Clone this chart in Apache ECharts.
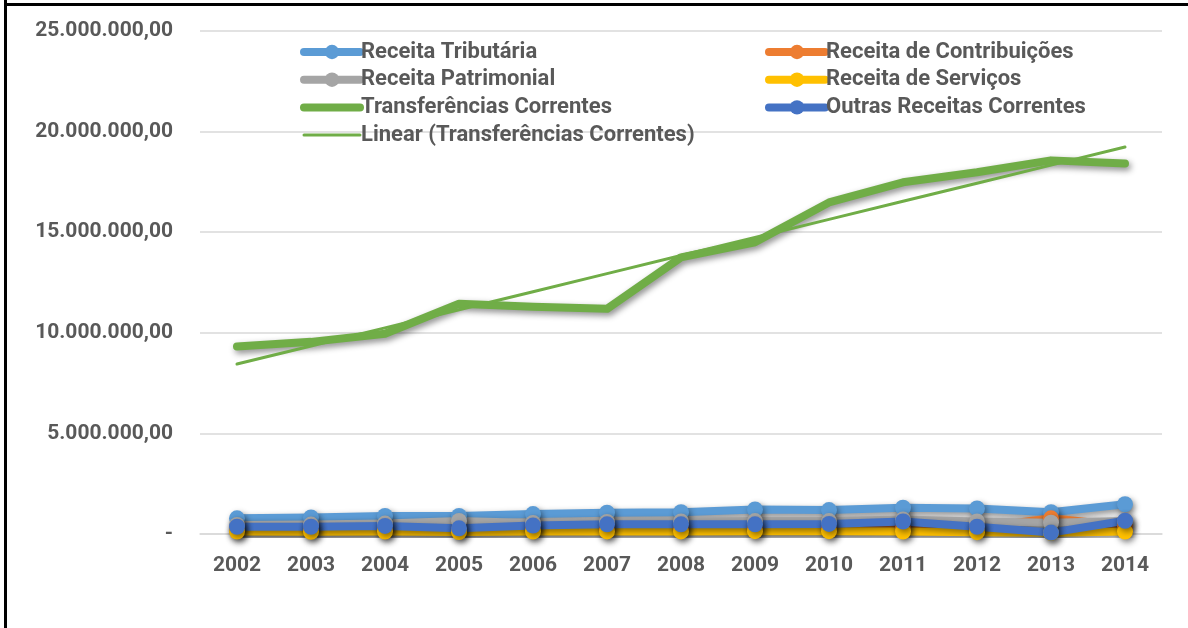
<!DOCTYPE html>
<html>
<head>
<meta charset="utf-8">
<script src="https://cdn.jsdelivr.net/npm/echarts@6/dist/echarts.min.js"></script>
<style>
html,body{margin:0;padding:0;background:#fff;}
#chart{width:1188px;height:628px;}
</style>
</head>
<body>
<div id="chart"></div>
<script>
const years = ['2002','2003','2004','2005','2006','2007','2008','2009','2010','2011','2012','2013','2014'];
const tributaria = [780000, 820000, 900000, 900000, 990000, 1060000, 1080000, 1220000, 1190000, 1310000, 1270000, 1080000, 1480000];
const contribuicoes = [200000, 200000, 210000, 200000, 220000, 230000, 230000, 240000, 250000, 260000, 300000, 780000, 400000];
const patrimonial = [450000, 470000, 520000, 650000, 550000, 600000, 620000, 640000, 640000, 720000, 620000, 560000, 640000];
const servicos = [120000, 110000, 120000, 100000, 120000, 130000, 130000, 140000, 140000, 120000, 90000, 60000, 120000];
const transferencias = [9320000, 9550000, 9950000, 11440000, 11300000, 11190000, 13750000, 14500000, 16480000, 17480000, 17980000, 18570000, 18410000];
const outras = [360000, 360000, 400000, 280000, 420000, 480000, 480000, 480000, 500000, 620000, 360000, 70000, 660000];
const yTicks = [0, 5000000, 10000000, 15000000, 20000000, 25000000];

// linear trend (least squares) of Transferências Correntes
const n = transferencias.length;
const mx = (n - 1) / 2;
const my = transferencias.reduce((a, b) => a + b, 0) / n;
let sxy = 0, sxx = 0;
transferencias.forEach((v, i) => { sxy += (i - mx) * (v - my); sxx += (i - mx) * (i - mx); });
const slope = sxy / sxx;
const trend = transferencias.map((v, i) => my + slope * (i - mx));

const FONT = 'Roboto';
const TXT = '#595959';
const shadow = {shadowColor: 'rgba(0,0,0,0.45)', shadowBlur: 6, shadowOffsetX: 2, shadowOffsetY: 3};

function fmt(v) {
  if (v === 0) return '-';
  const s = Math.round(v).toString().replace(/\B(?=(\d{3})+(?!\d))/g, '.');
  return s + ',00';
}

function lineSeries(name, data, color, withSymbol) {
  return {
    name: name, type: 'line', data: data,
    symbol: withSymbol ? 'circle' : 'none',
    symbolSize: 16,
    showSymbol: withSymbol,
    lineStyle: Object.assign({color: color, width: 8, cap: 'round', join: 'round'}, shadow),
    itemStyle: Object.assign({color: color}, shadow),
    emphasis: {disabled: true},
    animation: false
  };
}

function legItem(name, color, opts) {
  opts = opts || {};
  return {
    name: name,
    lineStyle: {color: color, width: opts.width || 8, shadowBlur: 0, shadowOffsetX: 0, shadowOffsetY: 0, cap: 'round'},
    itemStyle: {color: color, opacity: opts.noSymbol ? 0 : 1, shadowBlur: 0, shadowOffsetX: 0, shadowOffsetY: 0}
  };
}

const chart = echarts.init(document.getElementById('chart'), null, {renderer: 'canvas'});
const legendText = {fontFamily: FONT, fontWeight: 'bold', fontSize: 22, color: TXT, lineHeight: 20, padding: [0, 0, 0, -4]};
chart.setOption({
  backgroundColor: '#ffffff',
  animation: false,
  graphic: [
    {type: 'line', shape: {x1: 5.5, y1: 0, x2: 5.5, y2: 628}, style: {stroke: '#000', lineWidth: 3}},
    {type: 'line', shape: {x1: 4, y1: 4.5, x2: 1188, y2: 4.5}, style: {stroke: '#000', lineWidth: 3}}
  ],
  grid: {left: 200, right: 26, top: 31, bottom: 94, containLabel: false},
  legend: [
    {
      left: 300, top: 41, padding: 0, orient: 'vertical', itemWidth: 56, itemHeight: 18, itemGap: 5.7,
      data: [
        legItem('Receita Tributária', '#5B9BD5'),
        legItem('Receita Patrimonial', '#A5A5A5'),
        legItem('Transferências Correntes', '#70AD47', {noSymbol: true}),
        legItem('Linear (Transferências Correntes)', '#70AD47', {noSymbol: true, width: 3})
      ],
      textStyle: legendText, selectedMode: false
    },
    {
      left: 765, top: 41, padding: 0, orient: 'vertical', itemWidth: 56, itemHeight: 18, itemGap: 5.7,
      data: [
        legItem('Receita de Contribuições', '#ED7D31'),
        legItem('Receita de Serviços', '#FFC000'),
        legItem('Outras Receitas Correntes', '#4472C4')
      ],
      textStyle: legendText, selectedMode: false
    }
  ],
  xAxis: {
    type: 'category', data: years, boundaryGap: true,
    axisLine: {show: true, lineStyle: {color: '#D9D9D9', width: 1.5}},
    axisTick: {show: false},
    axisLabel: {fontFamily: FONT, fontWeight: 'bold', fontSize: 21, color: TXT, margin: 21}
  },
  yAxis: {
    type: 'value', min: 0, max: 25000000, interval: 5000000,
    axisLine: {show: false}, axisTick: {show: false},
    splitLine: {show: true, lineStyle: {color: '#D9D9D9', width: 1.5}},
    axisLabel: {fontFamily: FONT, fontWeight: 'bold', fontSize: 21, color: TXT, margin: 27,
      formatter: function (v) { return yTicks.indexOf(v) >= 0 ? fmt(v) : ''; }}
  },
  series: [
    lineSeries('Receita Tributária', tributaria, '#5B9BD5', true),
    lineSeries('Receita de Contribuições', contribuicoes, '#ED7D31', true),
    lineSeries('Receita Patrimonial', patrimonial, '#A5A5A5', true),
    lineSeries('Receita de Serviços', servicos, '#FFC000', true),
    lineSeries('Transferências Correntes', transferencias, '#70AD47', false),
    lineSeries('Outras Receitas Correntes', outras, '#4472C4', true),
    {
      name: 'Linear (Transferências Correntes)', type: 'line', data: trend,
      symbol: 'none', showSymbol: false,
      lineStyle: {color: '#70AD47', width: 3, cap: 'round'},
      itemStyle: {color: '#70AD47'},
      emphasis: {disabled: true}, animation: false, z: 3
    }
  ]
});
</script>
</body>
</html>
